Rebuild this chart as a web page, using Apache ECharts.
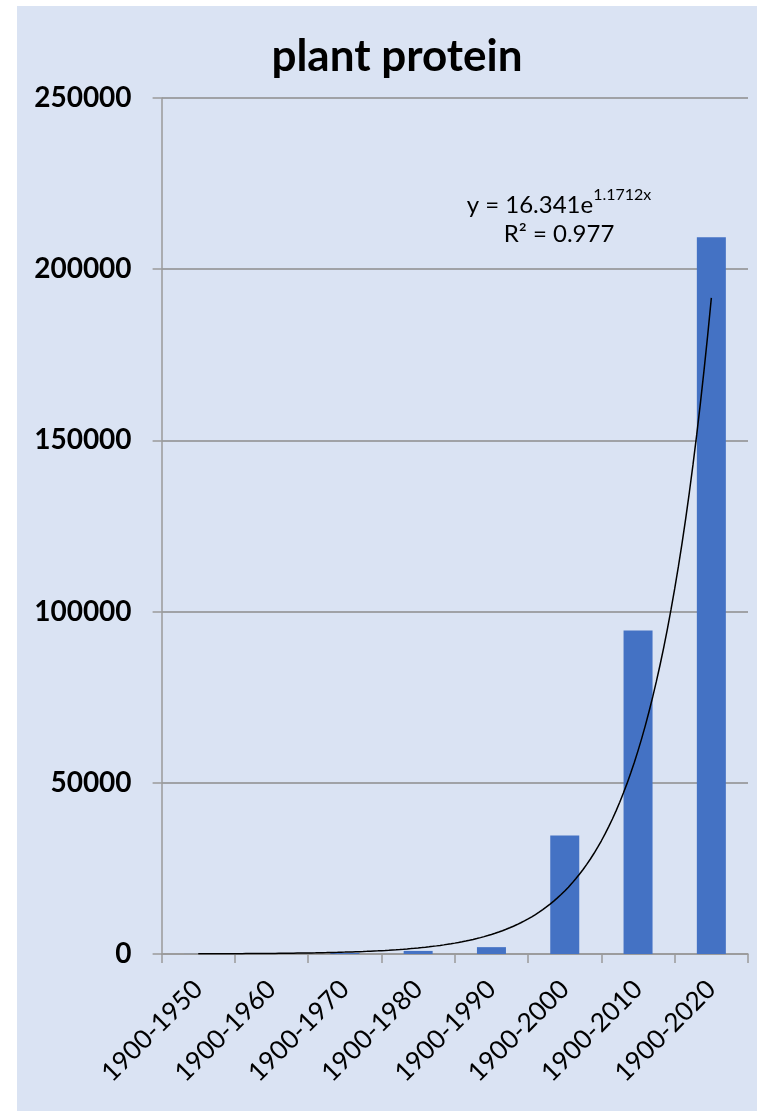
<!DOCTYPE html>
<html>
<head>
<meta charset="utf-8">
<title>plant protein</title>
<script src="https://cdn.jsdelivr.net/npm/echarts@6/dist/echarts.min.js"></script>
<style>
  html, body { margin: 0; padding: 0; background: #ffffff; }
  #chart { position: absolute; left: 17px; top: 6px; width: 740px; height: 1105px; }
</style>
</head>
<body>
<div id="chart"></div>
<script>
// Cumulative periods and their totals
const categories = ['1900-1950', '1900-1960', '1900-1970', '1900-1980', '1900-1990', '1900-2000', '1900-2010', '1900-2020'];
const values = [20, 100, 300, 900, 2000, 34600, 94500, 209300];

// Value axis ticks
const yMin = 0;
const yMax = 250000;
const yStep = 50000;

// Exponential trendline y = A * e^(B * x), x = 1..n over the categories
const TREND_A = 16.341;
const TREND_B = 1.1712;
const TREND_R2 = 0.977;

const trendPoints = [];
for (let i = 0; i <= 140; i++) {
  const x = 1 + i * (categories.length - 1) / 140;
  trendPoints.push([x, TREND_A * Math.exp(TREND_B * x)]);
}

const chart = echarts.init(document.getElementById('chart'), null, { renderer: 'canvas' });

const axisGray = '#9a9a9a';

chart.setOption({
  backgroundColor: '#dae3f3',
  animation: false,
  grid: { left: 144.6, right: 9, top: 92, bottom: 157 },
  xAxis: [
    {
      type: 'category',
      data: categories,
      boundaryGap: true,
      axisLine: { lineStyle: { color: axisGray, width: 1.5 } },
      axisTick: { show: true, alignWithLabel: false, length: 9, lineStyle: { color: axisGray, width: 1.5 } },
      axisLabel: {
        rotate: 45,
        margin: 31,
        interval: 0,
        color: '#000',
        fontFamily: 'Lato',
        fontSize: 26
      }
    },
    {
      type: 'value',
      min: 0.5,
      max: categories.length + 0.5,
      show: false
    }
  ],
  yAxis: {
    type: 'value',
    min: yMin,
    max: yMax,
    interval: yStep,
    axisLine: { show: true, lineStyle: { color: axisGray, width: 1.5 } },
    axisTick: { show: true, inside: false, length: 9, lineStyle: { color: axisGray, width: 1.5 } },
    splitLine: { show: true, lineStyle: { color: '#8c8c8c', width: 1.5 } },
    axisLabel: {
      margin: 30,
      color: '#000',
      fontFamily: 'Lato',
      fontWeight: 'bold',
      fontSize: 28,
      formatter: (v) => String(v)
    }
  },
  series: [
    {
      type: 'bar',
      data: values,
      xAxisIndex: 0,
      barWidth: 29,
      itemStyle: { color: '#4472c4' }
    },
    {
      type: 'line',
      xAxisIndex: 1,
      data: trendPoints,
      showSymbol: false,
      symbol: 'none',
      smooth: false,
      lineStyle: { color: '#000', width: 1.5 },
      z: 5
    }
  ],
  graphic: [
    {
      type: 'text',
      x: 380,
      y: 51,
      style: {
        text: 'plant protein',
        fill: '#000',
        font: 'bold 44px Lato',
        align: 'center',
        verticalAlign: 'middle'
      }
    },
    {
      type: 'text',
      x: 542,
      y: 196,
      style: {
        text: '{m|y = ' + TREND_A + 'e}{s|' + TREND_B + 'x}',
        align: 'center',
        verticalAlign: 'middle',
        rich: {
          m: { fontFamily: 'Lato', fontSize: 24, lineHeight: 30, fill: '#000', color: '#000', verticalAlign: 'bottom' },
          s: { fontFamily: 'Lato', fontSize: 16, lineHeight: 30, fill: '#000', color: '#000', verticalAlign: 'top' }
        }
      }
    },
    {
      type: 'text',
      x: 542,
      y: 228,
      style: {
        text: 'R² = ' + TREND_R2,
        fill: '#000',
        font: '24px Lato',
        align: 'center',
        verticalAlign: 'middle'
      }
    }
  ]
});
</script>
</body>
</html>
